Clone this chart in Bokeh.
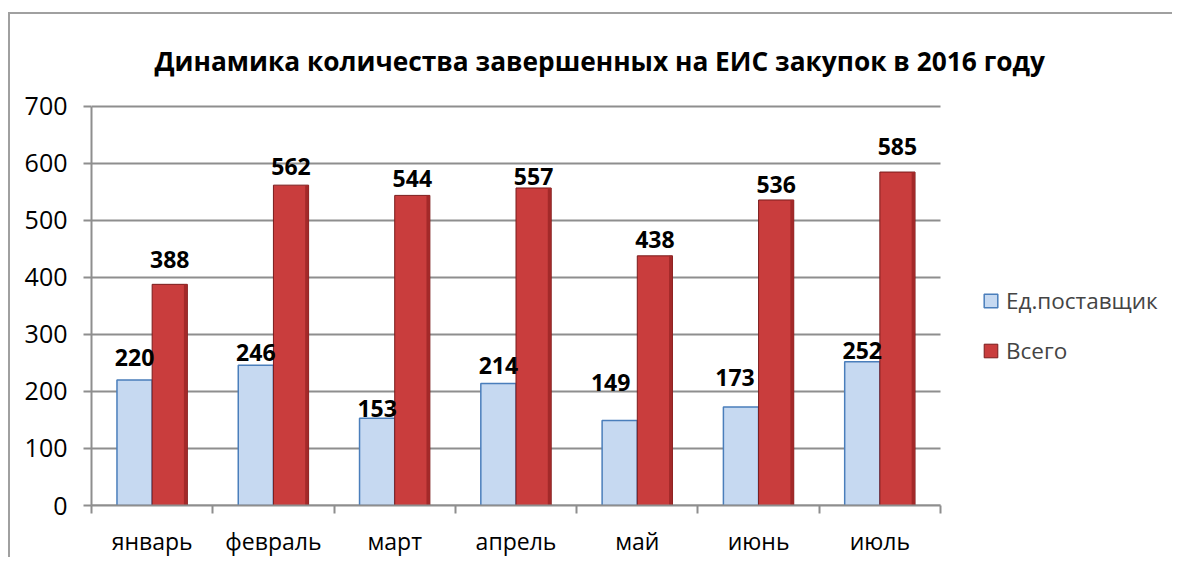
import numpy as np
from bokeh.plotting import figure
from bokeh.models import FixedTicker, Legend, LegendItem, ColumnDataSource, Range1d
from bokeh.embed import file_html
from bokeh.resources import INLINE
from bokeh.core.properties import value

# ---- data ----
months = ["январь", "февраль", "март", "апрель", "май", "июнь", "июль"]
single_supplier = [220, 246, 153, 214, 149, 173, 252]
total = [388, 562, 544, 557, 438, 536, 585]
series_names = ["Ед.поставщик", "Всего"]
y_ticks = [0, 100, 200, 300, 400, 500, 600, 700]
title_text = "Динамика количества завершенных на ЕИС закупок в 2016 году"

# ---- styles / layout ----
FONT = "Open Sans"
BAR_W = 0.29
SHADE_W = 0.028
GRID = "#8e8e8e"
BLUE_FILL, BLUE_LINE = "#c6d9f1", "#4a7ebb"
RED_FILL, RED_LINE, RED_SHADE = "#c93d3d", "#7a1c1c", "#a32929"
blue_gap = [23, 13, 10, 18, 38, 29, 11]     # px from bar top to label centre
blue_dx = [0, 0, 0, 0, -9, -6, 0]
red_gap = [25, 19, 17, 11, 16, 15, 26]

W, H = 1164, 545
ML, MT, MB, MR = 81, 92, 52, 0
PLOT_W_PX = 849          # width of the category area in px
PLOT_H_PX = 401          # height of 0..700 in px
TOP_PAD_PX = 4
frame_w = W - ML - MR
x_end = len(months) * frame_w / PLOT_W_PX
y_end = y_ticks[-1] * (PLOT_H_PX + TOP_PAD_PX) / PLOT_H_PX

idx = np.arange(len(months))
blue_src = ColumnDataSource(dict(
    x=idx + 0.5 - BAR_W / 2, top=single_supplier,
    lbl=[str(v) for v in single_supplier],
    dy=[-g for g in blue_gap], dx=blue_dx))
red_src = ColumnDataSource(dict(
    x=idx + 0.5 + BAR_W / 2, top=total,
    lbl=[str(v) for v in total],
    dy=[-g for g in red_gap], dx=[0] * len(total)))
red_shade_src = ColumnDataSource(dict(
    x=idx + 0.5 + BAR_W - SHADE_W / 2, top=total))

p = figure(width=W, height=H, output_backend="svg", toolbar_location=None,
           x_range=Range1d(0, x_end), y_range=Range1d(0, y_end),
           min_border_left=ML, min_border_right=MR, min_border_top=MT - TOP_PAD_PX,
           min_border_bottom=MB)
p.margin = (12, 0, 0, 8)
p.styles = {"border-top": "2px solid #a0a0a0", "border-left": "2px solid #a0a0a0"}
p.outline_line_color = None
p.background_fill_color = "white"
p.border_fill_color = "white"

# title
p.title.text = title_text
p.title.text_font = FONT
p.title.text_font_style = "bold"
p.title.text_font_size = "26.3px"
p.title.text_color = "black"
p.title.align = "left"
p.title.offset = 63
p.title.standoff = 47

# grid lines (only across the category area)
p.xgrid.visible = False
p.ygrid.visible = False
p.segment(x0=[0] * len(y_ticks), x1=[len(months)] * len(y_ticks), y0=y_ticks, y1=y_ticks,
          line_color=GRID, line_width=2)

# bars
rb = p.vbar(x="x", top="top", width=BAR_W, bottom=0, source=blue_src,
            fill_color=BLUE_FILL, line_color=BLUE_LINE, line_width=1.5)
rr = p.vbar(x="x", top="top", width=BAR_W, bottom=0, source=red_src,
            fill_color=RED_FILL, line_color=RED_LINE, line_width=1)
p.vbar(x="x", top="top", width=SHADE_W, bottom=0, source=red_shade_src,
       fill_color=RED_SHADE, line_color=None)

for src in (blue_src, red_src):
    p.text(x="x", y="top", text="lbl", source=src, y_offset="dy", x_offset="dx",
           text_align="center", text_baseline="middle",
           text_font=value(FONT), text_font_style="bold",
           text_font_size="23px", text_color="black")

# axes
p.xaxis.bounds = (0, len(months))
p.xaxis.ticker = FixedTicker(ticks=list(idx + 0.5), minor_ticks=list(range(len(months) + 1)))
p.xaxis.major_label_overrides = {float(i + 0.5): m for i, m in enumerate(months)}
p.xaxis.major_tick_out = 0
p.xaxis.major_tick_in = 0
p.xaxis.minor_tick_out = 8
p.xaxis.minor_tick_in = 0
p.xaxis.minor_tick_line_color = GRID
p.xaxis.minor_tick_line_width = 2
p.xaxis.axis_line_color = GRID
p.xaxis.axis_line_width = 2
p.xaxis.major_label_standoff = 11
p.xaxis.major_label_text_font = FONT
p.xaxis.major_label_text_font_size = "23px"
p.xaxis.major_label_text_color = "black"

p.yaxis.bounds = (0, y_ticks[-1])
p.yaxis.ticker = FixedTicker(ticks=y_ticks, minor_ticks=[])
p.yaxis.major_tick_out = 8
p.yaxis.major_tick_in = 0
p.yaxis.major_tick_line_color = GRID
p.yaxis.major_tick_line_width = 2
p.yaxis.axis_line_color = GRID
p.yaxis.axis_line_width = 2
p.yaxis.major_label_standoff = 16
p.yaxis.major_label_text_font = FONT
p.yaxis.major_label_text_font_size = "25px"
p.yaxis.major_label_text_color = "black"

legend = Legend(items=[LegendItem(label=series_names[0], renderers=[rb]),
                       LegendItem(label=series_names[1], renderers=[rr])],
                location=(891, 139), orientation="vertical",
                border_line_color=None, background_fill_alpha=0,
                padding=0, margin=0, spacing=19,
                glyph_width=17, glyph_height=17, label_standoff=7,
                label_text_font=FONT, label_text_font_size="22.5px")
p.add_layout(legend)

open("out.html", "w").write(file_html(p, INLINE))
